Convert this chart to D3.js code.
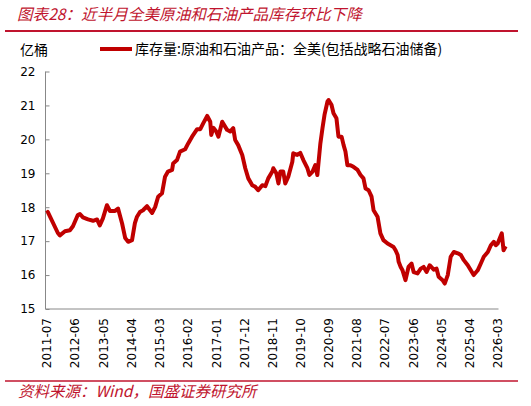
<!DOCTYPE html>
<html><head><meta charset="utf-8">
<script src="https://cdn.jsdelivr.net/npm/d3@7"></script>
<style>
html,body{margin:0;padding:0;background:#fff;}
svg{display:block;}
</style></head>
<body>
<svg id="chart" width="531" height="406"></svg>
<script>
const titleText = "图表28：近半月全美原油和石油产品库存环比下降";
const sourceText = "资料来源：Wind，国盛证券研究所";
const unitText = "亿桶";
const seriesName = "库存量:原油和石油产品：全美(包括战略石油储备)";
const tickLabels = ["2011-07","2012-06","2013-05","2014-04","2015-03","2016-02","2017-01","2017-12","2018-11","2019-10","2020-09","2021-08","2022-07","2023-06","2024-05","2025-04","2026-03"];
const yTicks = [15,16,17,18,19,20,21,22];
const dates = ["2011-07-01","2011-07-16","2011-11-13","2011-12-07","2012-02-05","2012-04-04","2012-05-10","2012-07-07","2012-08-01","2012-09-06","2012-11-05","2013-01-04","2013-02-20","2013-03-25","2013-05-01","2013-06-18","2013-07-24","2013-09-22","2013-10-28","2013-12-15","2014-01-21","2014-02-25","2014-04-12","2014-05-16","2014-06-10","2014-07-15","2014-08-20","2014-10-07","2014-12-07","2015-01-12","2015-02-16","2015-04-03","2015-05-09","2015-06-13","2015-08-01","2015-08-13","2015-09-28","2015-11-03","2016-01-03","2016-02-08","2016-03-25","2016-05-24","2016-07-01","2016-08-04","2016-09-21","2016-10-27","2016-11-08","2016-12-03","2017-01-06","2017-02-01","2017-03-18","2017-05-15","2017-06-21","2017-07-27","2017-08-19","2017-09-24","2017-11-11","2017-12-17","2018-01-22","2018-03-10","2018-04-15","2018-05-19","2018-07-07","2018-08-12","2018-09-16","2018-11-03","2018-11-15","2018-12-21","2019-01-15","2019-02-07","2019-03-13","2019-04-06","2019-05-12","2019-06-29","2019-07-10","2019-08-27","2019-10-02","2019-11-07","2019-12-25","2020-01-18","2020-02-24","2020-03-28","2020-04-21","2020-05-27","2020-06-21","2020-07-15","2020-08-19","2020-09-01","2020-10-06","2020-10-30","2020-12-04","2020-12-28","2021-02-03","2021-02-27","2021-03-21","2021-04-13","2021-05-19","2021-06-24","2021-08-12","2021-09-16","2021-10-21","2021-11-15","2021-12-21","2022-01-25","2022-02-18","2022-04-06","2022-05-10","2022-06-15","2022-08-03","2022-09-08","2022-10-13","2022-11-06","2022-12-01","2022-12-13","2023-01-06","2023-01-28","2023-03-04","2023-04-09","2023-05-15","2023-06-09","2023-07-25","2023-09-01","2023-10-06","2023-11-10","2023-12-16","2024-02-03","2024-03-07","2024-04-01","2024-05-18","2024-06-12","2024-07-18","2024-08-22","2024-09-28","2024-11-15","2024-12-21","2025-01-25","2025-03-13","2025-04-18","2025-05-22","2025-07-09","2025-08-15","2025-09-19","2025-11-06","2025-12-12","2026-01-16","2026-02-09","2026-03-03","2026-03-27","2026-04-21","2026-05-01","2026-05-12","2026-06-06"];
const values = [17.83,17.86,17.24,17.17,17.29,17.32,17.44,17.77,17.80,17.70,17.64,17.60,17.64,17.46,17.67,18.06,17.89,17.89,17.96,17.52,17.09,16.98,17.03,17.53,17.72,17.86,17.91,18.03,17.83,18.01,18.31,18.41,18.90,19.05,19.10,19.29,19.39,19.64,19.71,19.88,20.08,20.30,20.30,20.47,20.69,20.52,20.13,20.34,20.23,20.08,20.52,20.28,20.23,20.33,19.98,19.83,19.54,19.15,18.85,18.65,18.60,18.50,18.65,18.62,18.85,19.05,19.15,19.00,18.70,19.05,19.05,18.70,18.90,19.34,19.59,19.54,19.60,19.39,19.15,18.95,19.05,19.24,18.95,19.88,20.33,20.72,21.11,21.16,21.02,20.77,20.62,20.08,20.08,19.83,19.64,19.24,19.24,19.19,19.10,18.95,18.85,18.55,18.50,18.31,17.91,17.72,17.23,17.03,16.93,16.88,16.83,16.73,16.59,16.39,16.24,16.14,15.85,16.24,16.34,16.09,16.05,16.19,16.24,16.09,16.29,16.16,16.19,15.95,15.85,15.75,16.00,16.54,16.68,16.64,16.59,16.44,16.29,16.14,16.00,16.14,16.34,16.54,16.68,16.88,16.98,16.88,16.93,17.08,17.23,16.98,16.73,16.85];

const red = "#C00000";
const svg = d3.select("#chart");
const parse = d3.timeParse("%Y-%m-%d");
const parseM = d3.timeParse("%Y-%m");
const data = dates.map((d,i)=>({date:parse(d), v:values[i]}));

const x = d3.scaleTime().domain([parseM(tickLabels[0]), parseM(tickLabels[tickLabels.length-1])]).range([46.5, 497.5]);
const y = d3.scaleLinear().domain([15,22]).range([309, 71.5]);
const axisColor = "#888888";

// title
svg.append("text").attr("x",17).attr("y",20).attr("fill","#C0142E")
  .attr("font-family","'Noto Sans CJK SC'").attr("font-style","italic").attr("font-size",15.6)
  .text(titleText);
svg.append("line").attr("x1",5).attr("x2",518).attr("y1",31).attr("y2",31).attr("stroke","#C0142E").attr("stroke-width",2);

// unit
svg.append("text").attr("x",20).attr("y",55).attr("font-family","'Noto Sans CJK SC'").attr("font-size",14).attr("fill","#000").text(unitText);

// legend
svg.append("line").attr("x1",100).attr("x2",132).attr("y1",49).attr("y2",49).attr("stroke",red).attr("stroke-width",4);
svg.append("text").attr("x",135).attr("y",54).attr("font-family","'Noto Sans CJK SC'").attr("font-size",14).attr("fill","#000").text(seriesName);

// y axis
const yAxis = d3.axisLeft(y).tickValues(yTicks).tickSize(-4).tickPadding(10).tickFormat(d3.format("d"));
const gy = svg.append("g").attr("transform","translate(45.5,0)").call(yAxis);
gy.select(".domain").attr("stroke",axisColor).attr("d",`M-0,${y(22)}V${y(15)}`);
gy.selectAll(".tick line").attr("stroke",axisColor);
gy.selectAll(".tick text").attr("font-family","'DejaVu Sans'").attr("font-size",12).attr("fill","#000");

// x axis
const xAxis = d3.axisBottom(x).tickValues(tickLabels.map(parseM)).tickSize(0).tickFormat(d3.timeFormat("%Y-%m"));
const gx = svg.append("g").attr("transform",`translate(0,${y(15)})`).call(xAxis);
gx.select(".domain").attr("stroke",axisColor).attr("d",`M45.5,0H${x(parseM("2026-03"))+1}`);
gx.selectAll(".tick text").attr("font-family","'DejaVu Sans'").attr("font-size",12).attr("fill","#000")
  .attr("text-anchor","end").attr("dy","0.35em").attr("transform","translate(0,9) rotate(-90)").attr("x",0).attr("y",0);

// line
const line = d3.line().x(d=>x(d.date)).y(d=>y(d.v));
svg.append("path").datum(data).attr("d",line).attr("fill","none").attr("stroke",red).attr("stroke-width",4).attr("stroke-linejoin","round");

// footer
svg.append("line").attr("x1",5).attr("x2",518).attr("y1",381).attr("y2",381).attr("stroke","#C0142E").attr("stroke-width",1.5);
svg.append("text").attr("x",18).attr("y",397).attr("fill","#C0142E")
  .attr("font-family","'Noto Sans CJK SC'").attr("font-style","italic").attr("font-size",15.5)
  .text(sourceText);
</script>
</body></html>
